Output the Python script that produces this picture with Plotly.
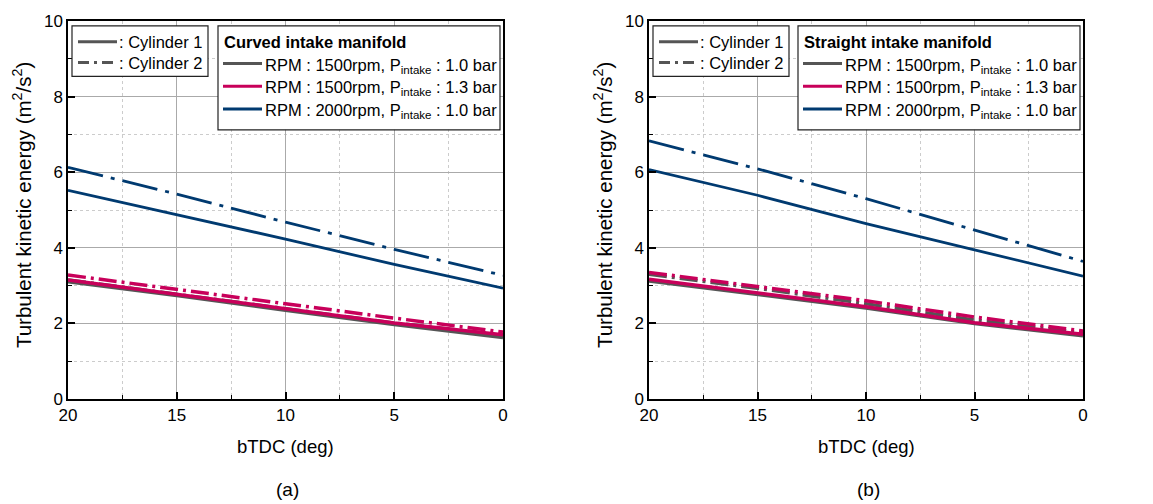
import plotly.graph_objects as go

# ---------------- data ----------------
angle = [20, 15, 10, 5, 0]

curved_1500_10_cyl1 = [3.10, 2.74, 2.35, 1.97, 1.63]
curved_1500_10_cyl2 = [3.15, 2.78, 2.39, 2.01, 1.69]
curved_1500_13_cyl1 = [3.15, 2.78, 2.39, 2.01, 1.70]
curved_1500_13_cyl2 = [3.28, 2.91, 2.52, 2.14, 1.77]
curved_2000_10_cyl1 = [5.52, 4.88, 4.23, 3.56, 2.93]
curved_2000_10_cyl2 = [6.13, 5.42, 4.68, 3.96, 3.27]

straight_1500_10_cyl1 = [3.12, 2.76, 2.41, 2.00, 1.67]
straight_1500_10_cyl2 = [3.30, 2.93, 2.52, 2.09, 1.75]
straight_1500_13_cyl1 = [3.17, 2.80, 2.44, 2.02, 1.71]
straight_1500_13_cyl2 = [3.35, 2.97, 2.60, 2.17, 1.80]
straight_2000_10_cyl1 = [6.07, 5.39, 4.64, 3.94, 3.25]
straight_2000_10_cyl2 = [6.83, 6.09, 5.30, 4.46, 3.64]

case_labels = [
    "RPM : 1500rpm, P<sub>intake</sub> : 1.0 bar",
    "RPM : 1500rpm, P<sub>intake</sub> : 1.3 bar",
    "RPM : 2000rpm, P<sub>intake</sub> : 1.0 bar",
]
panel_titles = ["<b>Curved intake manifold</b>", "<b>Straight intake manifold</b>"]
panel_tags = ["(a)", "(b)"]
cyl_labels = [": Cylinder 1", ": Cylinder 2"]

# ---------------- style ----------------
GRAY = "#555555"
RED = "#c8005a"
NAVY = "#003a70"
FONT = "Liberation Sans, Arial, sans-serif"
colors = [GRAY, RED, NAVY]
widths = [3.5, 3.5, 2.8]
dash_cyl2 = ["18px,5px,3px,5px", "18px,5px,3px,5px", "36px,8px,4px,8px"]

W, H = 1153, 504
ML, MR, MT, MB = 68, 70, 17, 105
PW = W - ML - MR
PH = H - MT - MB
panels_px = [(68, 503), (649, 1083)]


def px_x(px):
    return (px - ML) / PW


def px_y(py):
    return (H - MB - py) / PH


fig = go.Figure()

series = [
    [(curved_1500_10_cyl1, curved_1500_10_cyl2),
     (curved_1500_13_cyl1, curved_1500_13_cyl2),
     (curved_2000_10_cyl1, curved_2000_10_cyl2)],
    [(straight_1500_10_cyl1, straight_1500_10_cyl2),
     (straight_1500_13_cyl1, straight_1500_13_cyl2),
     (straight_2000_10_cyl1, straight_2000_10_cyl2)],
]

for p, panel in enumerate(series):
    xa = "x" if p == 0 else "x2"
    ya = "y" if p == 0 else "y2"
    for i, (c1, c2) in enumerate(panel):
        fig.add_trace(go.Scatter(x=angle, y=c2, mode="lines", xaxis=xa, yaxis=ya,
                                 line=dict(color=colors[i], width=widths[i], dash=dash_cyl2[i]),
                                 showlegend=False, hoverinfo="skip"))
        fig.add_trace(go.Scatter(x=angle, y=c1, mode="lines", xaxis=xa, yaxis=ya,
                                 line=dict(color=colors[i], width=widths[i]),
                                 showlegend=False, hoverinfo="skip"))

axis_common = dict(
    showline=True, linecolor="black", linewidth=1.5, mirror=True,
    ticks="inside", ticklen=7, tickwidth=1.5, tickcolor="black",
    showgrid=True, gridcolor="#aaaaaa", gridwidth=1, zeroline=False,
    tickfont=dict(family=FONT, size=17, color="black"),
)
xaxis_common = dict(axis_common, range=[20, 0], tick0=0, dtick=5,
                    minor=dict(dtick=2.5, ticks="inside", ticklen=4, tickwidth=1.2,
                               tickcolor="black", showgrid=True, gridcolor="#cccccc",
                               griddash="dot", gridwidth=1))
yaxis_common = dict(axis_common, range=[0, 10], tick0=0, dtick=2,
                    minor=dict(dtick=1, ticks="inside", ticklen=4, tickwidth=1.2,
                               tickcolor="black", showgrid=True, gridcolor="#cccccc",
                               griddash="dot", gridwidth=1))

d1 = [0, px_x(503)]
d2 = [px_x(649), 1]
fig.update_layout(
    width=W, height=H,
    margin=dict(l=ML, r=MR, t=MT, b=MB),
    paper_bgcolor="white", plot_bgcolor="white",
    xaxis=dict(xaxis_common, domain=d1, anchor="y"),
    yaxis=dict(yaxis_common, domain=[0, 1], anchor="x"),
    xaxis2=dict(xaxis_common, domain=d2, anchor="y2"),
    yaxis2=dict(yaxis_common, domain=[0, 1], anchor="x2"),
    font=dict(family=FONT, color="black"),
)

shapes = []
annots = []
for p, (L, R) in enumerate(panels_px):
    cx = (L + R) / 2
    annots.append(dict(text="bTDC (deg)", x=px_x(cx), y=px_y(447), xref="paper", yref="paper",
                       showarrow=False, xanchor="center", yanchor="middle",
                       font=dict(family=FONT, size=18.5, color="black")))
    annots.append(dict(text="Turbulent kinetic energy (m<sup>2</sup>/s<sup>2</sup>)",
                       x=px_x(L - 46), y=px_y(203), xref="paper", yref="paper", textangle=-90,
                       showarrow=False, xanchor="center", yanchor="middle",
                       font=dict(family=FONT, size=20.5, color="black")))
    annots.append(dict(text=panel_tags[p], x=px_x(cx + 2), y=px_y(490), xref="paper", yref="paper",
                       showarrow=False, xanchor="center", yanchor="middle",
                       font=dict(family=FONT, size=19, color="black")))

    # legend box 1 (cylinders)
    bx0, bx1, by0, by1 = L + 4, L + 140, 22, 73
    shapes.append(dict(type="rect", xref="paper", yref="paper",
                       x0=px_x(bx0), x1=px_x(bx1), y0=px_y(by0), y1=px_y(by1),
                       fillcolor="white", line=dict(color="#222222", width=1.2), layer="above"))
    for r, yy in enumerate([38, 59]):
        shapes.append(dict(type="line", xref="paper", yref="paper",
                           x0=px_x(L + 10), x1=px_x(L + 49), y0=px_y(yy), y1=px_y(yy),
                           line=dict(color=GRAY, width=3,
                                     dash="solid" if r == 0 else "11px,5px,3px,5px"),
                           layer="above"))
        annots.append(dict(text=cyl_labels[r], x=px_x(L + 49), y=px_y(yy), xref="paper", yref="paper",
                           showarrow=False, xanchor="left", yanchor="middle",
                           font=dict(family=FONT, size=16.5, color="black")))

    # legend box 2 (cases)
    bx0, bx1, by0, by1 = R - 285, R - 3, 22, 127
    shapes.append(dict(type="rect", xref="paper", yref="paper",
                       x0=px_x(bx0), x1=px_x(bx1), y0=px_y(by0), y1=px_y(by1),
                       fillcolor="white", line=dict(color="#222222", width=1.2), layer="above"))
    annots.append(dict(text=panel_titles[p], x=px_x(R - 281), y=px_y(38), xref="paper", yref="paper",
                       showarrow=False, xanchor="left", yanchor="middle",
                       font=dict(family=FONT, size=16.5, color="black")))
    for r, yy in enumerate([60, 83, 106]):
        shapes.append(dict(type="line", xref="paper", yref="paper",
                           x0=px_x(R - 280), x1=px_x(R - 241), y0=px_y(yy), y1=px_y(yy),
                           line=dict(color=colors[r], width=3), layer="above"))
        annots.append(dict(text=case_labels[r], x=px_x(R - 240), y=px_y(yy + 2), xref="paper", yref="paper",
                           showarrow=False, xanchor="left", yanchor="middle",
                           font=dict(family=FONT, size=16.5, color="black")))

fig.update_layout(shapes=shapes, annotations=annots)
fig.write_html("out.html")
